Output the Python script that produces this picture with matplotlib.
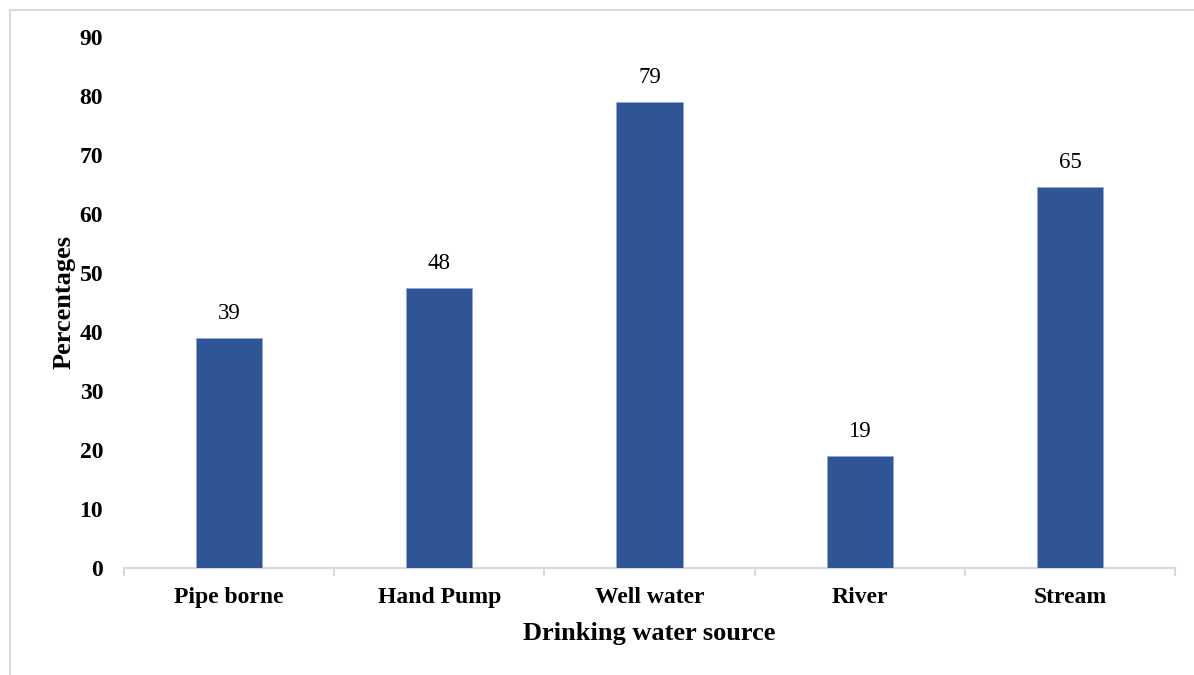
import matplotlib
matplotlib.use("Agg")
import matplotlib.pyplot as plt
from matplotlib.lines import Line2D
import numpy as np

categories = ["Pipe borne", "Hand Pump", "Well water", "River", "Stream"]
values = [39.0, 47.4, 79.0, 18.9, 64.6]
value_labels = ["39", "48", "79", "19", "65"]
yticks = [0, 10, 20, 30, 40, 50, 60, 70, 80, 90]

plt.rcParams['font.family'] = ['Liberation Serif', 'DejaVu Serif']

fig = plt.figure(figsize=(11.94, 6.75), dpi=100)
ax = fig.add_axes([124/1194, 1-567.5/675, (1175-124)/1194, (567.5-37)/675])

x = np.arange(len(categories))
bars = ax.bar(x, values, width=0.314, color="#2F5597", edgecolor="#8FAADC", linewidth=0.6, zorder=3)

for b, lab in zip(bars, value_labels):
    ax.annotate(lab, (b.get_x() + b.get_width()/2, b.get_height()),
                xytext=(0, 10), textcoords="offset points",
                ha="center", va="bottom", fontsize=16.5, color="black")

ax.set_xlim(-0.5, len(categories) - 0.5)
ax.set_ylim(0, 90)
ax.set_yticks(yticks)
ax.set_yticklabels([str(t) for t in yticks], fontsize=17, fontweight="bold")
ax.set_xticks(x)
ax.set_xticklabels(categories, fontsize=17, fontweight="bold")
ax.tick_params(axis="x", which="major", length=0, pad=14)
ax.tick_params(axis="y", length=0, pad=15)
ax.set_xticks(np.arange(-0.5, len(categories), 1.0), minor=True)
ax.tick_params(axis="x", which="minor", length=5.5, width=1.5, color="#D9D9D9", direction="out")

for s in ["top", "right", "left"]:
    ax.spines[s].set_visible(False)
ax.spines["bottom"].set_color("#D9D9D9")
ax.spines["bottom"].set_linewidth(1.5)

ax.set_xlabel("Drinking water source", fontsize=19, fontweight="bold", labelpad=10)
ax.set_ylabel("Percentages", fontsize=19, fontweight="bold", labelpad=3)

# outer frame (left and top borders)
fig.add_artist(Line2D([9.5/1194, 9.5/1194], [0, 1-9.5/675], color="#D9D9D9", linewidth=1.5, transform=fig.transFigure))
fig.add_artist(Line2D([9.5/1194, 1], [1-9.5/675, 1-9.5/675], color="#D9D9D9", linewidth=1.5, transform=fig.transFigure))

fig.savefig("out.png", dpi=100)
